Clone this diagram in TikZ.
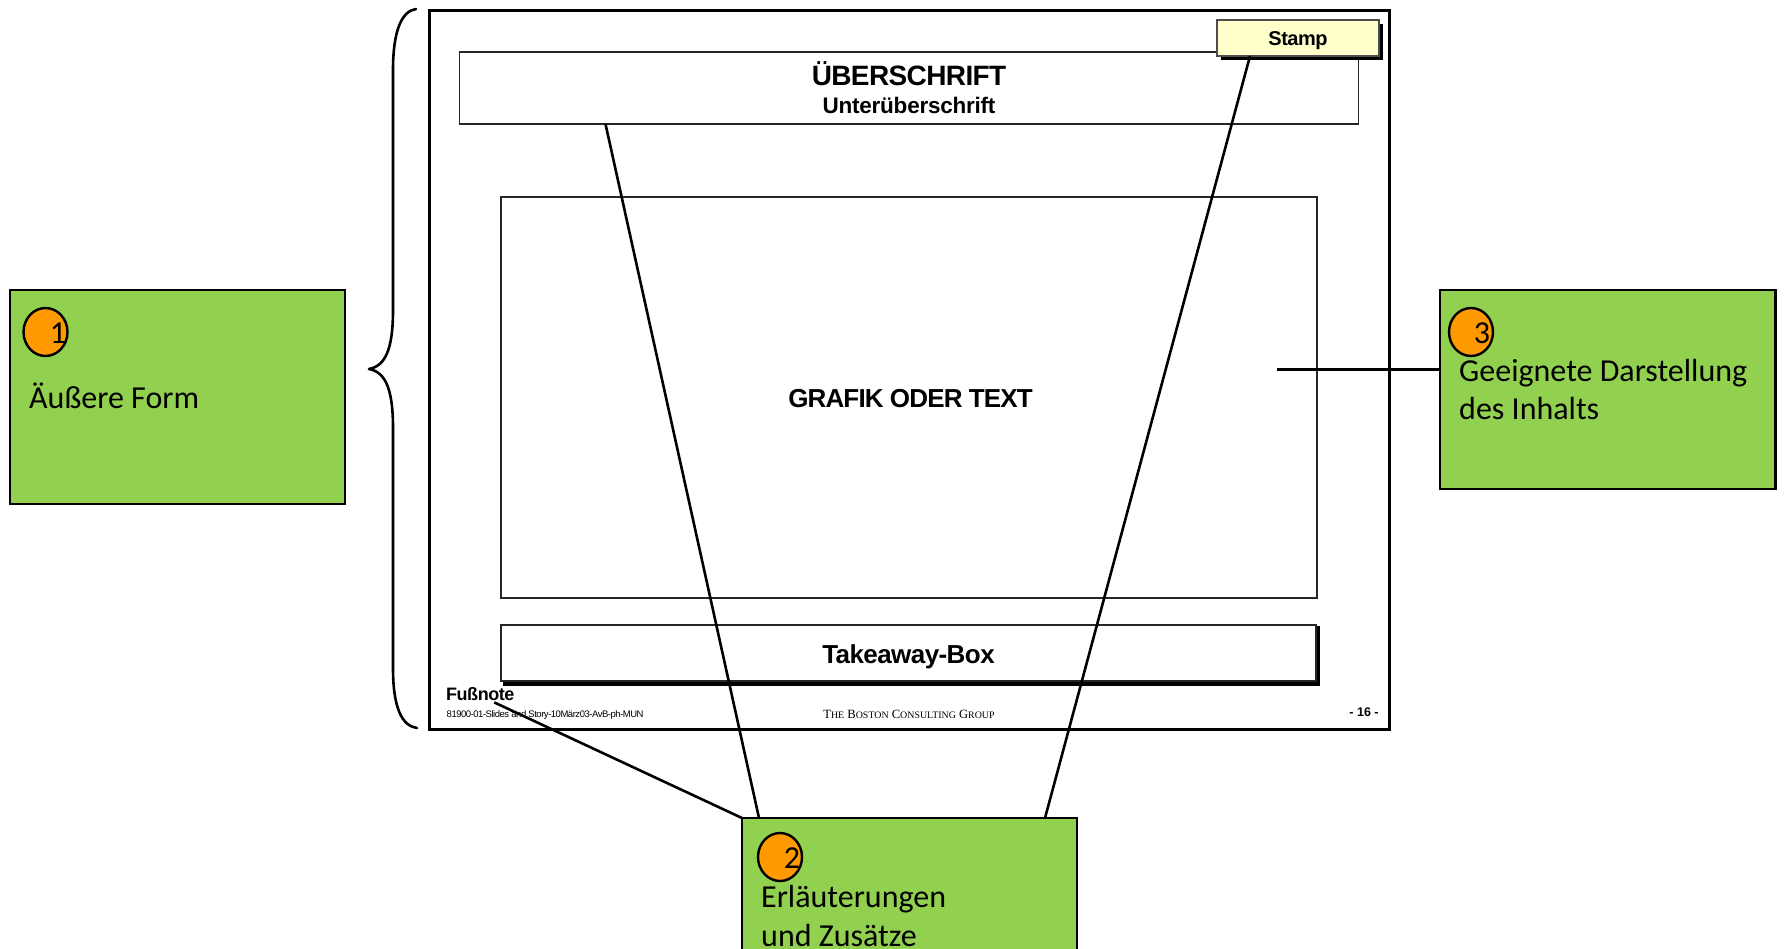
\documentclass[tikz,border=0pt]{standalone}
\usepackage{fontspec}
\setmainfont{Liberation Sans}
\newfontfamily\callfont{Carlito}
\newfontfamily\bcgfont{Liberation Serif}
\usetikzlibrary{calc,shapes.geometric}
\definecolor{callgreen}{HTML}{92D050}
\definecolor{numorange}{HTML}{FF9900}
\definecolor{stampyellow}{HTML}{FFFFCC}
\newcommand{\tight}[2]{\fontsize{#1}{#1}\selectfont\addfontfeature{LetterSpace=#2}}
\tikzset{
  x=1pt,y=-1pt,
  boxbase/.style={anchor=north west,inner sep=0pt,outer sep=0pt},
  callbox/.style={boxbase,draw=black,fill=callgreen,line width=2.6pt},
  numdot/.style={ellipse,draw=black,fill=numorange,line width=2.4pt,inner sep=0pt,outer sep=0pt,minimum width=44pt,minimum height=48pt},
  numtxt/.style={inner sep=0pt,font=\callfont\fontsize{32}{32}\selectfont},
  calltxt/.style={anchor=base west,inner sep=0pt,align=left,font=\callfont\fontsize{32}{38.5}\selectfont},
  slidebox/.style={boxbase,draw=black,line width=3pt},
  thinbox/.style={boxbase,draw=black!85,line width=1.1pt},
  shadowbox/.style={boxbase,fill=black},
  conn/.style={draw=black,line width=2.6pt},
  boldtxt/.style={inner sep=0pt},
}
\begin{document}
\begin{tikzpicture}
\useasboundingbox (0,0) rectangle (1784,948);
\clip (0,0) rectangle (1784,948);
% slide frame
\node[slidebox,minimum width=960pt,minimum height=719pt] (slide) at (429,10) {};
% title box
\node[thinbox,minimum width=899pt,minimum height=72pt] (titlebox) at (459.5,52) {};
% stamp
\node[shadowbox,minimum width=162pt,minimum height=36pt] (stampshadow) at (1221,24) {};
\node[boxbase,draw=black!70,line width=1.2pt,fill=stampyellow,minimum width=162pt,minimum height=36pt] (stamp) at (1217,20) {};
% main box
\node[thinbox,minimum width=816pt,minimum height=401pt] (mainbox) at (501,197) {};
% takeaway
\node[shadowbox,minimum width=817pt,minimum height=60pt] (takeshadow) at (503,625.5) {};
\node[boxbase,fill=white,draw=black!85,line width=1.1pt,minimum width=815pt,minimum height=56pt] (takebox) at (501,625) {};
% texts in slide
\node[boldtxt,font=\bfseries\tight{28}{-2.2}] (t1) at (909,74) {ÜBERSCHRIFT};
\node[boldtxt,font=\bfseries\tight{22.5}{-1}] (t2) at (909,105) {Unterüberschrift};
\node[boldtxt,font=\bfseries\tight{26}{-3.3}] (t3) at (910.5,399) {GRAFIK ODER TEXT};
\node[boldtxt,font=\bfseries\tight{26}{-2.2}] (t4) at (908.5,656.5) {Takeaway-Box};
\node[boldtxt,font=\bfseries\tight{20}{-2.3}] (t5) at (1298,41) {Stamp};
\node[boldtxt,anchor=base west,font=\bfseries\tight{18}{-2.7}] (t6) at (446,700) {Fußnote};
\node[inner sep=0pt,anchor=base west,font=\tight{9.5}{-5}] (t7) at (446.5,717) {81900-01-Slides and Story-10März03-AvB-ph-MUN};
\node[inner sep=0pt,anchor=base,font=\bcgfont\fontsize{12.6}{12.6}\selectfont] (t8) at (909,718) {T{\fontsize{9.9}{9.9}\selectfont HE} B{\fontsize{9.9}{9.9}\selectfont OSTON} C{\fontsize{9.9}{9.9}\selectfont ONSULTING} G{\fontsize{9.9}{9.9}\selectfont ROUP}};
\node[boldtxt,anchor=base,font=\bfseries\fontsize{12.5}{12.5}\selectfont] (t9) at (1364,716) {- 16 -};
% callouts
\node[callbox,minimum width=335pt,minimum height=214pt] (box1) at (10,290) {};
\node[callbox,minimum width=335pt,minimum height=160pt] (box2) at (742,818) {};
\node[callbox,minimum width=335.5pt,minimum height=199pt] (box3) at (1440,290) {};
\node[numdot] (n1) at (45.5,332) {};
\node[numdot] (n2) at (780,857) {};
\node[numdot] (n3) at (1471,332) {};
\node[numtxt] (d1) at (58,333) {1};
\node[numtxt] (d2) at (792,858) {2};
\node[numtxt] (d3) at (1482,333) {3};
\node[calltxt] (c1) at (29,408.5) {Äußere Form};
\node[calltxt] (c2) at (761,907) {Erläuterungen};
\node[calltxt] (c2b) at (761,946) {und Zusätze};
\node[calltxt] (c3) at (1459,381) {Geeignete Darstellung};
\node[calltxt] (c3b) at (1459,419) {des Inhalts};
% connectors
\draw[conn] ([xshift=146pt]titlebox.south west) -- ([xshift=17pt]box2.north west);
\draw[conn] ([xshift=33pt]stamp.south west) -- ([xshift=303pt]box2.north west);
\coordinate (fn) at ([xshift=14pt,yshift=-2pt]t6.south);
\draw[conn] (fn) -- (box2.north west);
\coordinate (rightend) at (1277,369);
\draw[conn,line width=3pt] (rightend) -- (box3.west |- rightend);
% brace
\coordinate (bracetop) at (416,9);
\coordinate (bracetip) at (369,369);
\coordinate (bracebot) at (417,728);
\draw[conn,line cap=round,line join=round] (bracetop) .. controls (402,11) and (393,30) .. (393,70)
  -- (393,310) .. controls (393,350) and (385,366) .. (bracetip)
  .. controls (385,372) and (393,388) .. (393,428)
  -- (393,668) .. controls (393,708) and (402,726) .. (bracebot);
\end{tikzpicture}
\end{document}
